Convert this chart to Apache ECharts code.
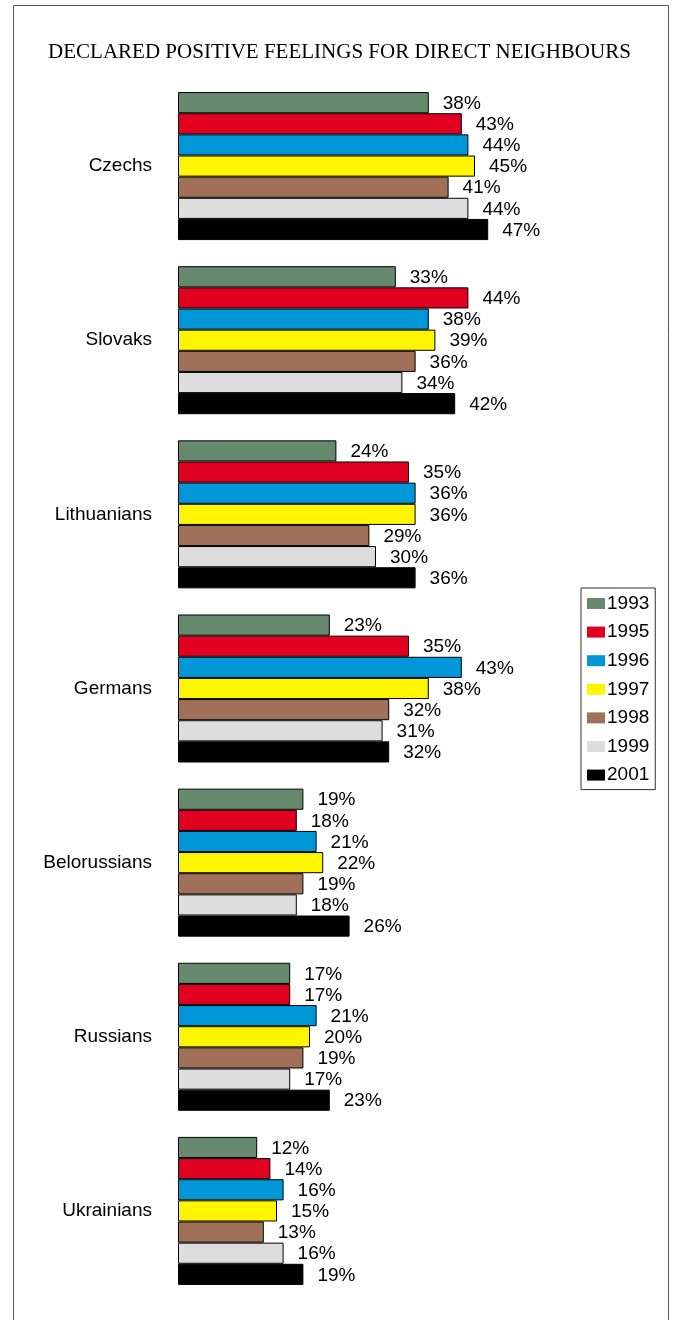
<!DOCTYPE html>
<html>
<head>
<meta charset="utf-8">
<script src="https://cdn.jsdelivr.net/npm/echarts@6/dist/echarts.min.js"></script>
<style>
html,body{margin:0;padding:0;background:#fff;}
#chart{width:679px;height:1320px;}
</style>
</head>
<body>
<div id="chart"></div>
<script>
const categories = ['Czechs', 'Slovaks', 'Lithuanians', 'Germans', 'Belorussians', 'Russians', 'Ukrainians'];
const years = ['1993', '1995', '1996', '1997', '1998', '1999', '2001'];
const colors = ['#678a6e', '#e10020', '#0097d9', '#fff500', '#a07058', '#dddddd', '#000000'];
const v1993 = [38, 33, 24, 23, 19, 17, 12];
const v1995 = [43, 44, 35, 35, 18, 17, 14];
const v1996 = [44, 38, 36, 43, 21, 21, 16];
const v1997 = [45, 39, 36, 38, 22, 20, 15];
const v1998 = [41, 36, 29, 32, 19, 19, 13];
const v1999 = [44, 34, 30, 31, 18, 17, 16];
const v2001 = [47, 42, 36, 32, 26, 23, 19];
const seriesValues = [v1993, v1995, v1996, v1997, v1998, v1999, v2001];

const chart = echarts.init(document.getElementById('chart'));
const sans = 'Liberation Sans, Arial, sans-serif';
chart.setOption({
  animation: false,
  backgroundColor: '#fff',
  title: {
    text: 'DECLARED POSITIVE FEELINGS FOR DIRECT NEIGHBOURS',
    left: 'center',
    top: 37,
    textStyle: { fontFamily: 'Liberation Serif, Times New Roman, serif', fontSize: 21, fontWeight: 'normal', color: '#000' }
  },
  graphic: [{
    type: 'rect',
    shape: { x: 13.5, y: 5.5, width: 655, height: 1330 },
    style: { fill: 'none', stroke: '#555', lineWidth: 1 },
    silent: true,
    z: -1
  }],
  legend: {
    orient: 'vertical',
    left: 581,
    top: 588,
    width: 74,
    padding: [6, 6, 5, 6],
    itemWidth: 18,
    itemHeight: 11,
    itemGap: 9.6,
    icon: 'rect',
    borderColor: '#333',
    borderWidth: 1,
    textStyle: { fontFamily: sans, fontSize: 19, color: '#000', padding: [0, 0, 0, -3] },
    itemStyle: { borderWidth: 0 },
    data: years
  },
  grid: { left: 178, right: 105, top: 79, bottom: 22, containLabel: false },
  xAxis: {
    type: 'value', min: 0, max: 60, show: false
  },
  yAxis: {
    type: 'category',
    data: categories,
    inverse: true,
    axisLine: { show: false },
    axisTick: { show: false },
    splitLine: { show: false },
    axisLabel: { fontFamily: sans, fontSize: 19, color: '#000', margin: 26 }
  },
  series: seriesValues.map((vals, i) => ({
    name: years[i],
    type: 'bar',
    data: vals,
    barGap: '0%',
    barCategoryGap: '15%',
    itemStyle: { color: colors[i], borderColor: '#000', borderWidth: 1 },
    label: {
      show: true,
      position: 'right',
      distance: 14,
      offset: [0, 1],
      formatter: '{c}%',
      fontFamily: sans,
      fontSize: 19,
      color: '#000'
    }
  }))
});
</script>
</body>
</html>
